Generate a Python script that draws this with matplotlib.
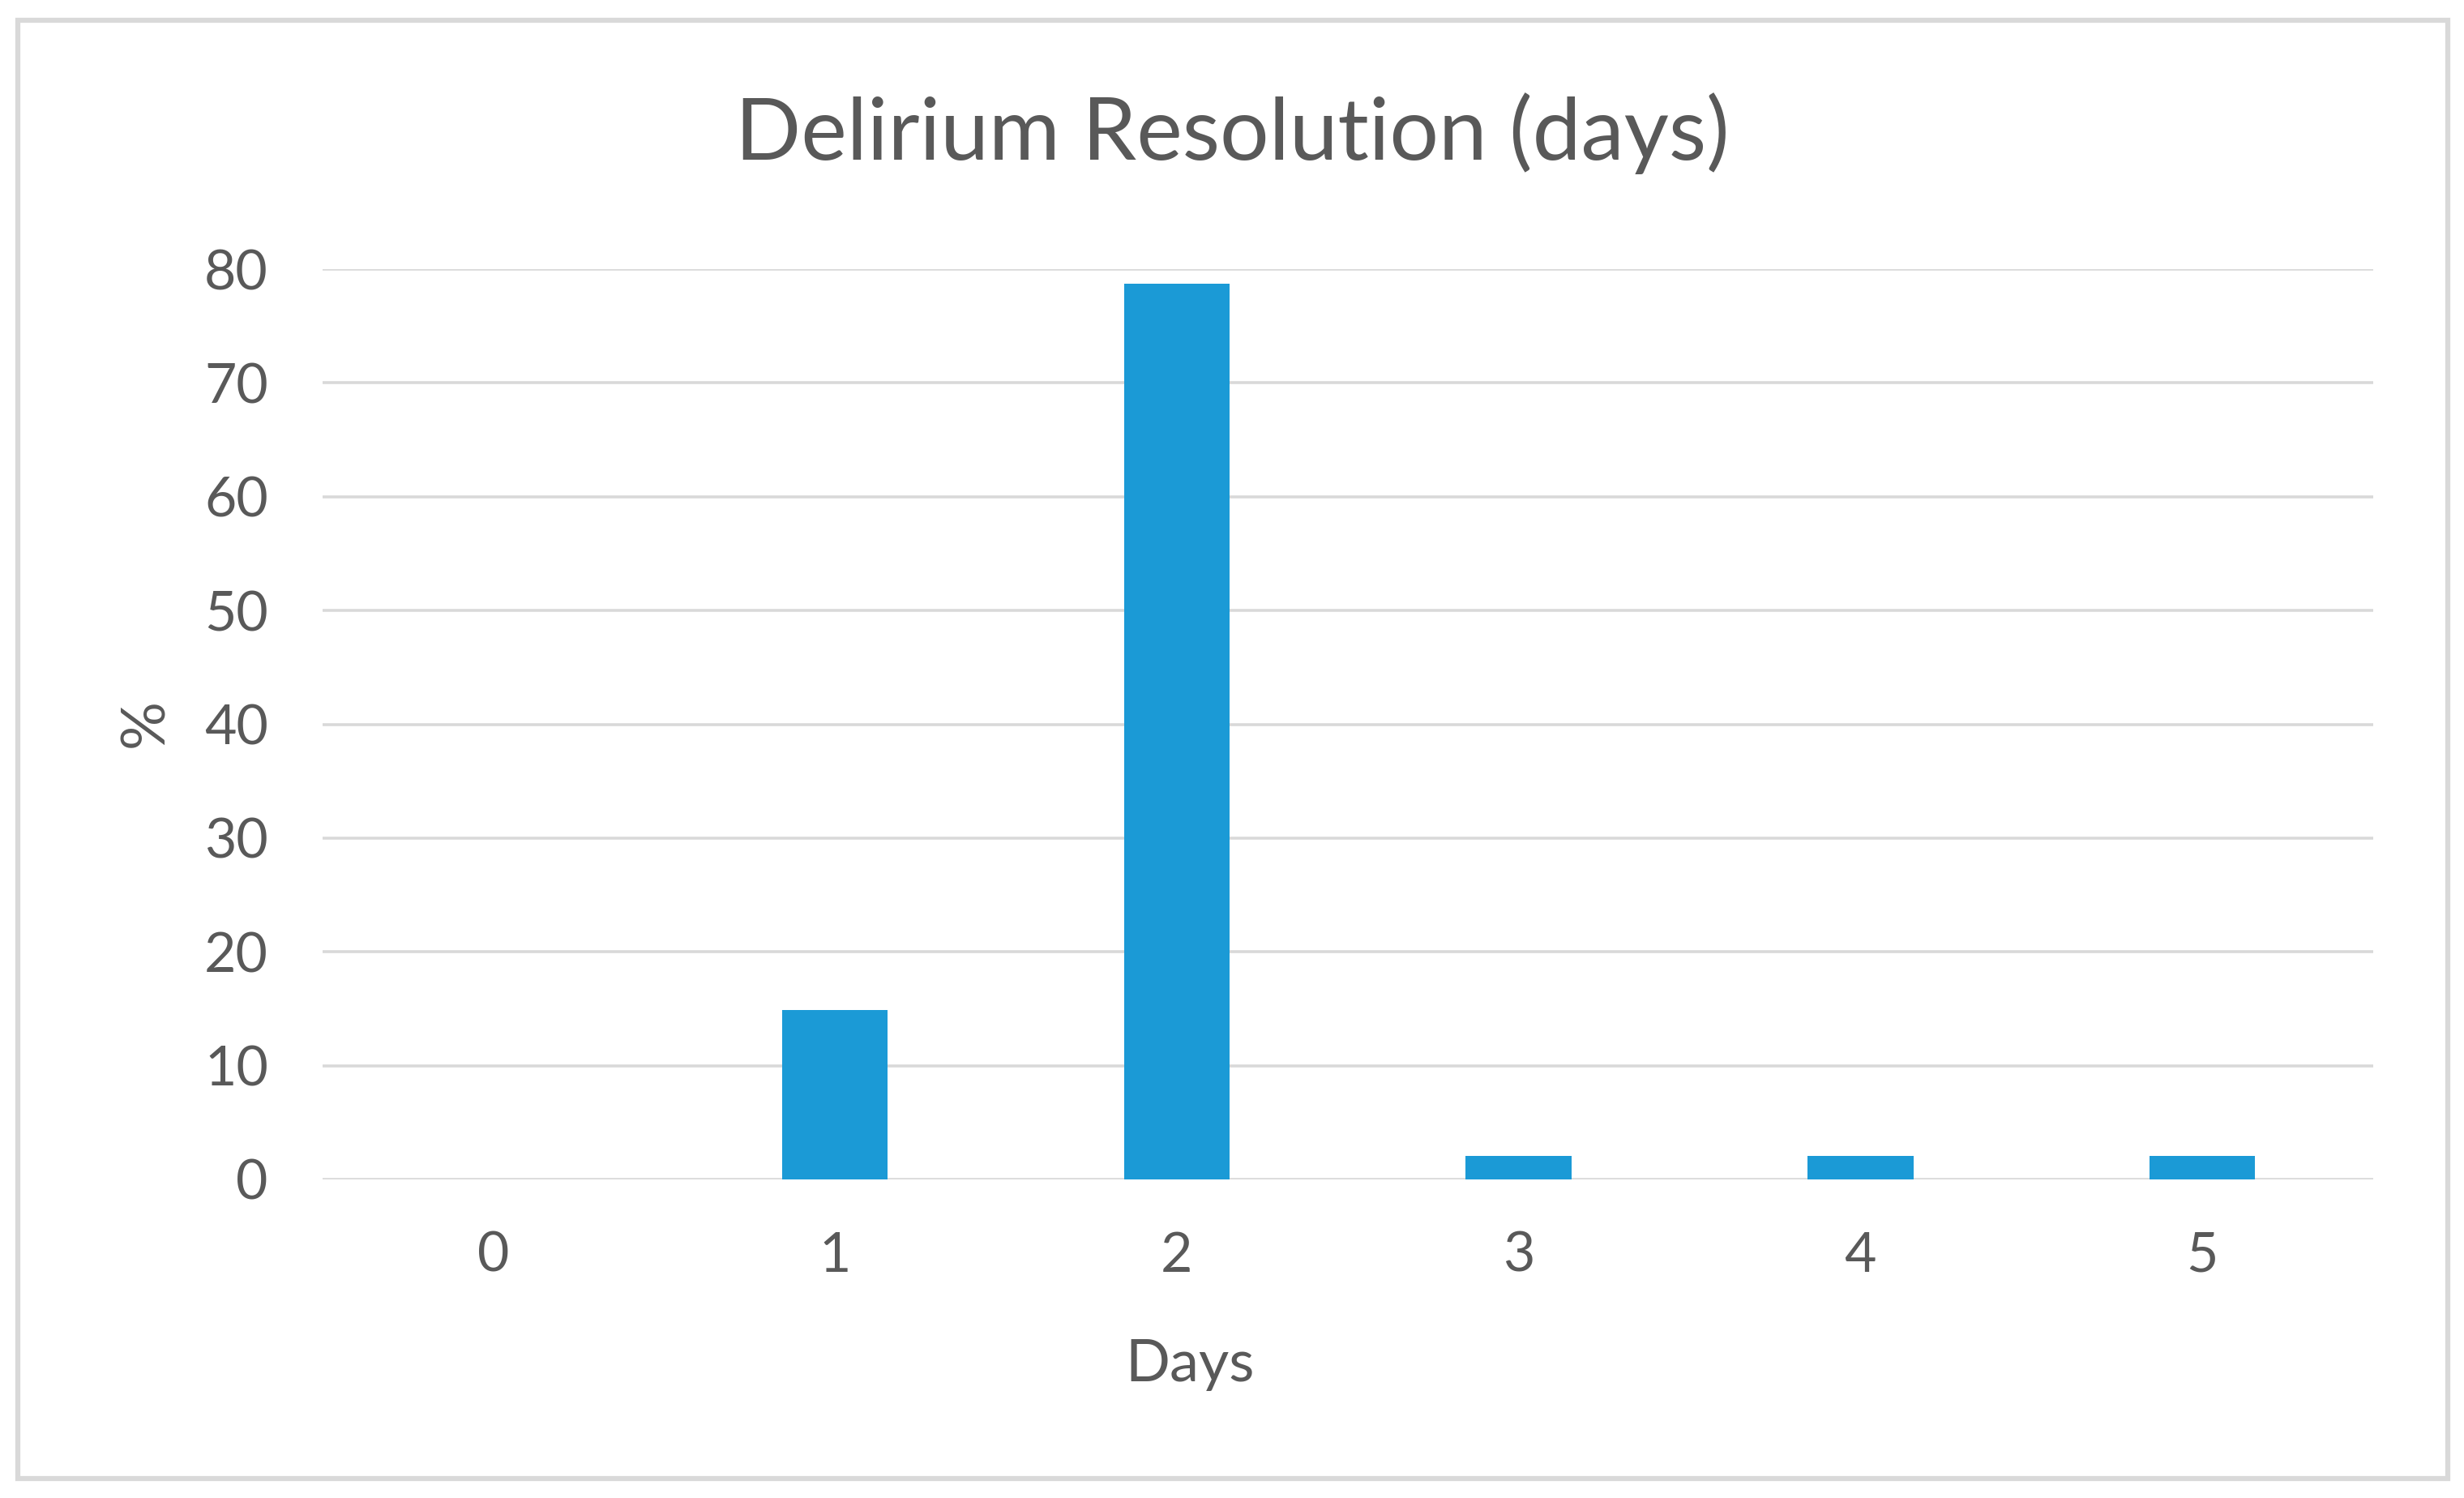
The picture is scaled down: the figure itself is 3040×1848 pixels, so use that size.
import matplotlib
matplotlib.use("Agg")
import matplotlib.pyplot as plt
from matplotlib.patches import Rectangle

categories = ["0", "1", "2", "3", "4", "5"]
values = [0, 14.9, 78.7, 2.1, 2.1, 2.1]
yticks = [0, 10, 20, 30, 40, 50, 60, 70, 80]

plt.rcParams['font.family'] = ['Lato', 'DejaVu Sans']
text_color = '#595959'
grid_color = '#d9d9d9'
bar_color = '#1b9ad6'

W, H = 3040, 1848
fig = plt.figure(figsize=(W / 100, H / 100), dpi=100)
fig.patch.set_facecolor('white')

# outer border
fig.add_artist(Rectangle((22 / W, 1 - 1824 / H), (3020 - 22) / W, (1824 - 25) / H,
                         transform=fig.transFigure, fill=False,
                         edgecolor=grid_color, linewidth=4.5))

ax = fig.add_axes([397.5 / W, 1 - 1455 / H, (2928 - 397.5) / W, (1455 - 332) / H])
x = list(range(len(categories)))
ax.bar(x, values, width=0.31, color=bar_color, zorder=3)
ax.set_xlim(-0.5, len(categories) - 0.5)
ax.set_ylim(0, 80)
ax.set_yticks(yticks)
ax.set_xticks(x)
ax.set_xticklabels(categories)
ax.yaxis.grid(True, color=grid_color, linewidth=2.6, zorder=0)
ax.set_axisbelow(True)
for s in ax.spines.values():
    s.set_visible(False)
ax.tick_params(axis='both', length=0, labelsize=49, labelcolor=text_color)
ax.tick_params(axis='y', pad=48)
ax.tick_params(axis='x', pad=46)
for lbl in ax.get_yticklabels():
    lbl.set_horizontalalignment('right')

fig.text(1520 / W, 1 - 165 / H, "Delirium Resolution (days)", ha='center', va='center',
         fontsize=77, color=text_color)
fig.text(1468 / W, 1 - 1683 / H, "Days", ha='center', va='center',
         fontsize=52, color=text_color)
fig.text(180 / W, 1 - 892 / H, "%", ha='center', va='center', rotation=90,
         fontsize=54, color=text_color)

fig.savefig("out.png", dpi=100, facecolor='white')
